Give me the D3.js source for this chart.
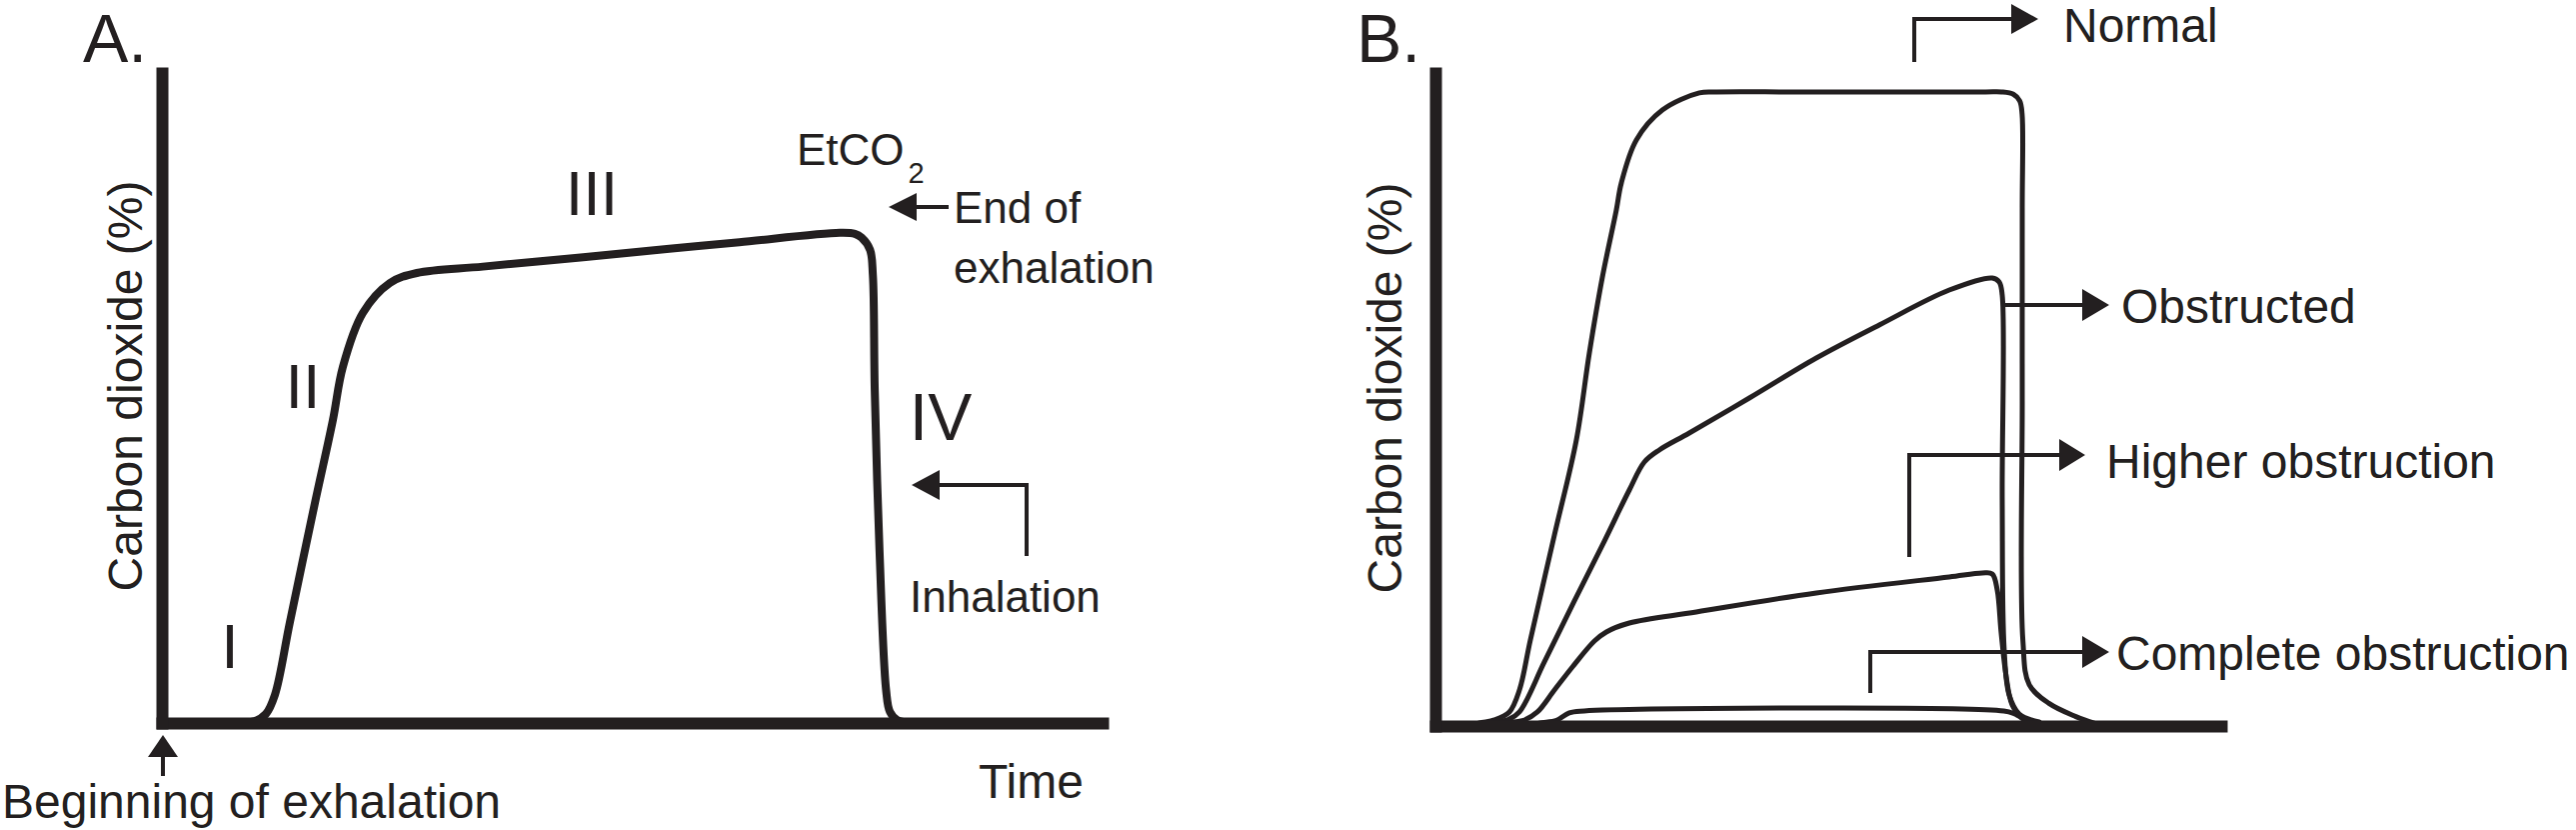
<!DOCTYPE html>
<html>
<head>
<meta charset="utf-8">
<script src="https://cdn.jsdelivr.net/npm/d3@7"></script>
<style>
  html, body { margin: 0; padding: 0; background: #fff; }
  svg { display: block; }
  text { font-family: "Liberation Sans", Arial, Helvetica, sans-serif; fill: #231f20; }
</style>
</head>
<body>
<svg id="chart" width="2577" height="830"></svg>
<script>
// ---------------- DATA ----------------
// Panel A: normal capnogram (time units, CO2 %)
const timeA = [0.718, 0.982, 1.098, 1.193, 1.352, 1.616, 1.806, 1.911, 2.122, 2.408, 2.693, 3.39, 4.45, 5.36, 6.10, 7.16, 7.32, 7.39, 7.48, 7.51, 7.53, 7.58, 7.65, 7.69, 7.77, 7.95];
const co2A  = [0.000, 0.021, 0.096, 0.299, 1.078, 2.348, 3.233, 3.799, 4.375, 4.695, 4.802, 4.87, 4.97, 5.06, 5.13, 5.23, 5.22, 5.18, 5.05, 4.78, 3.55, 1.85, 0.35, 0.12, 0.03, 0.00];
const phaseLabels = ["I", "II", "III", "IV"];

// Panel B: four capnograms
const timeNormal = [0.45, 0.556, 0.745, 0.934, 1.061, 1.199, 1.503, 1.780, 1.944, 2.109, 2.285, 2.348, 2.538, 2.866, 3.333, 3.55, 4.596, 6.95, 7.15, 7.30, 7.38, 7.41, 7.412, 7.412, 7.42, 7.50, 7.75, 8.09, 8.32];
const co2Normal  = [0.00, 0.032, 0.064, 0.149, 0.382, 0.914, 2.029, 3.038, 3.962, 4.769, 5.481, 5.768, 6.225, 6.543, 6.725, 6.735, 6.735, 6.735, 6.735, 6.71, 6.64, 6.50, 5.50, 3.46, 0.91, 0.44, 0.24, 0.10, 0.03];

const timeObstructed = [0.60, 0.745, 0.934, 1.061, 1.376, 1.755, 2.134, 2.449, 2.639, 2.828, 3.207, 3.965, 4.811, 5.606, 6.490, 7.033, 7.121, 7.159, 7.159, 7.184, 7.247, 7.374, 7.626];
const co2Obstructed  = [0.00, 0.032, 0.074, 0.149, 0.680, 1.328, 1.965, 2.507, 2.804, 2.932, 3.112, 3.484, 3.909, 4.260, 4.631, 4.759, 4.716, 4.578, 2.401, 0.807, 0.329, 0.127, 0.042];

const timeHigher = [0.75, 0.871, 1.124, 1.288, 1.503, 1.730, 2.008, 2.159, 2.449, 3.295, 4.811, 6.490, 6.907, 7.033, 7.096, 7.146, 7.210, 7.285, 7.412, 7.563];
const co2Higher  = [0.00, 0.032, 0.064, 0.149, 0.382, 0.627, 0.903, 0.999, 1.094, 1.211, 1.413, 1.583, 1.625, 1.615, 1.445, 0.988, 0.520, 0.223, 0.085, 0.032];

const timeComplete = [1.20, 1.31, 1.53, 1.69, 1.88, 7.18, 7.31, 7.50, 7.65];
const co2Complete  = [0.00, 0.03, 0.06, 0.14, 0.16, 0.16, 0.13, 0.04, 0.00];

const seriesNamesB = ["Normal", "Obstructed", "Higher obstruction", "Complete obstruction"];
const axisTitleY = "Carbon dioxide (%)";
const axisTitleX = "Time";

// ---------------- LAYOUT ----------------
const ink = "#231f20";
const svg = d3.select("#chart");

const xA = d3.scaleLinear().domain([0, 10]).range([162, 1109]);
const yA = d3.scaleLinear().domain([0, 7]).range([723, 67]);
const xB = d3.scaleLinear().domain([0, 10]).range([1436, 2228]);
const yB = d3.scaleLinear().domain([0, 7]).range([726, 67]);

function drawAxes(x, y, axisW) {
  const half = axisW / 2;
  const xAxisScale = x.copy().range([x.range()[0], x.range()[1] - half]);
  const yAxisScale = y.copy().range([y.range()[0], y.range()[1] + half]);
  const gx = svg.append("g").attr("transform", `translate(0,${y(0)})`)
    .call(d3.axisBottom(xAxisScale).tickValues([]).tickSizeOuter(0));
  gx.select(".domain").attr("stroke", ink).attr("stroke-width", axisW).attr("stroke-linecap", "square");
  const gy = svg.append("g").attr("transform", `translate(${x(0)},0)`)
    .call(d3.axisLeft(yAxisScale).tickValues([]).tickSizeOuter(0));
  gy.select(".domain").attr("stroke", ink).attr("stroke-width", axisW).attr("stroke-linecap", "square");
}

function drawCurve(x, y, ts, vs, w) {
  const pts = ts.map((t, i) => [t, vs[i]]);
  const line = d3.line().x(d => x(d[0])).y(d => y(d[1])).curve(d3.curveCatmullRom.alpha(0.5));
  svg.append("path").datum(pts).attr("d", line)
    .attr("fill", "none").attr("stroke", ink).attr("stroke-width", w)
    .attr("stroke-linejoin", "round").attr("stroke-linecap", "round");
}

function label(txt, x, y, size, anchor) {
  return svg.append("text").attr("x", x).attr("y", y).attr("font-size", size)
    .attr("text-anchor", anchor || "start").text(txt);
}

function arrowHead(tipX, tipY, dir, len, half) {
  let p;
  if (dir === "left") p = [[tipX, tipY], [tipX + len, tipY - half], [tipX + len, tipY + half]];
  else if (dir === "right") p = [[tipX, tipY], [tipX - len, tipY - half], [tipX - len, tipY + half]];
  else p = [[tipX, tipY], [tipX - half, tipY + len], [tipX + half, tipY + len]];
  svg.append("path").attr("d", "M" + p.map(q => q.join(",")).join("L") + "Z").attr("fill", ink);
}

function polyline(points, w) {
  svg.append("path").attr("d", d3.line()(points)).attr("fill", "none")
    .attr("stroke", ink).attr("stroke-width", w).attr("stroke-linejoin", "miter");
}

// ---------------- PANEL A ----------------
drawCurve(xA, yA, timeA, co2A, 8);
drawAxes(xA, yA, 12);

label("A.", 83, 62, 68);
svg.append("text").attr("transform", "translate(142,386) rotate(-90)")
  .attr("text-anchor", "middle").attr("font-size", 48).text(axisTitleY);

label(phaseLabels[0], 230, 668, 63, "middle");
label(phaseLabels[1], 303, 408, 63, "middle");
label(phaseLabels[2], 592, 215, 63, "middle");
label(phaseLabels[3], 941, 440, 66, "middle");

const et = label("EtCO", 797, 165, 44);
et.append("tspan").attr("dy", 18).attr("dx", 4).attr("font-size", 29).text("2");

arrowHead(889, 207, "left", 28, 14);
polyline([[912, 207], [949, 207]], 4);
label("End of", 954, 223, 44);
label("exhalation", 954, 283, 44);

arrowHead(912, 485, "left", 28, 15);
polyline([[935, 485], [1027, 485], [1027, 556]], 4);
label("Inhalation", 910, 612, 44);

label(axisTitleX, 979, 798, 48);
label("Beginning of exhalation", 2, 818, 48);
arrowHead(163, 735, "up", 22, 15);
polyline([[163, 752], [163, 776]], 4);

// ---------------- PANEL B ----------------
drawCurve(xB, yB, timeComplete, co2Complete, 5);
drawCurve(xB, yB, timeHigher, co2Higher, 5);
drawCurve(xB, yB, timeObstructed, co2Obstructed, 5);
drawCurve(xB, yB, timeNormal, co2Normal, 5);
drawAxes(xB, yB, 12);

label("B.", 1357, 62, 68);
svg.append("text").attr("transform", "translate(1402,388) rotate(-90)")
  .attr("text-anchor", "middle").attr("font-size", 48).text(axisTitleY);

polyline([[1915, 62], [1915, 19], [2015, 19]], 4);
arrowHead(2039, 19, "right", 27, 15);
label(seriesNamesB[0], 2064, 42, 48);

polyline([[2006, 305], [2086, 305]], 4);
arrowHead(2110, 305, "right", 27, 16);
label(seriesNamesB[1], 2122, 323, 48);

polyline([[1910, 557], [1910, 455], [2062, 455]], 4);
arrowHead(2086, 455, "right", 26, 16);
label(seriesNamesB[2], 2107, 478, 48);

polyline([[1871, 693], [1871, 652], [2086, 652]], 4);
arrowHead(2110, 652, "right", 27, 16);
label(seriesNamesB[3], 2117, 670, 48);
</script>
</body>
</html>
